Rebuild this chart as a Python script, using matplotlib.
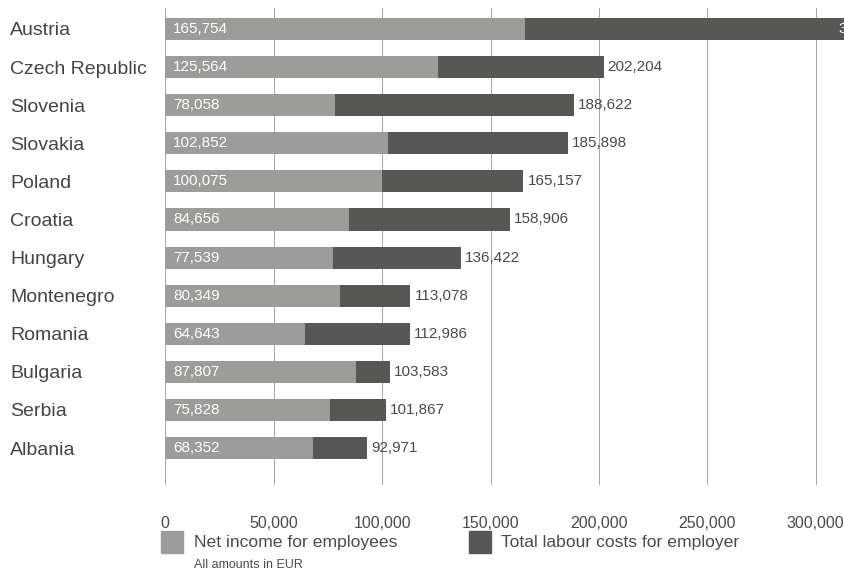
import matplotlib.pyplot as plt
from matplotlib.patches import Rectangle

plt.rcParams['font.family'] = ['Liberation Sans', 'DejaVu Sans']

countries = ['Austria', 'Czech Republic', 'Slovenia', 'Slovakia', 'Poland', 'Croatia',
             'Hungary', 'Montenegro', 'Romania', 'Bulgaria', 'Serbia', 'Albania']
net_income = [165754, 125564, 78058, 102852, 100075, 84656,
              77539, 80349, 64643, 87807, 75828, 68352]
# Austria's total is cut off in the source
labour_costs = [339500, 202204, 188622, 185898, 165157, 158906,
                136422, 113078, 112986, 103583, 101867, 92971]
xticks = [0, 50000, 100000, 150000, 200000, 250000, 300000]

light = '#9c9c9b'
dark = '#575756'
txt = '#4a4a4a'

W, H = 845, 572
fig = plt.figure(figsize=(W / 100, H / 100), dpi=100)
ax = fig.add_axes([165.3 / W, 1 - 485 / H, 1 - 165.3 / W, (485 - 8) / H])

ypos = list(range(len(countries)))
ax.barh(ypos, labour_costs, height=0.58, color=dark, zorder=2)
ax.barh(ypos, net_income, height=0.58, color=light, zorder=3)

xmax = 313500
for y, n, t in zip(ypos, net_income, labour_costs):
    ax.annotate(f'{n:,}', (0, y), xytext=(5.8, 0), textcoords='offset points',
                ha='left', va='center', color='white', fontsize=11, zorder=4)
    if t > xmax:
        # bar runs off the chart: label sits inside the bar end, mostly cut off
        ax.annotate(f'{t:,}', (t, y), xytext=(-5.8, 0), textcoords='offset points',
                    ha='right', va='center', color='white', fontsize=11,
                    zorder=4, annotation_clip=False)
    else:
        ax.annotate(f'{t:,}', (t, y), xytext=(2.9, 0), textcoords='offset points',
                    ha='left', va='center', color=txt, fontsize=11, zorder=4)

ax.set_xlim(0, xmax)
ax.set_ylim(11.97, -0.551)
ax.set_xticks(xticks)
ax.set_xticklabels([f'{v:,}' for v in xticks], fontsize=11.5, color=txt)
ax.set_yticks(ypos)
ax.set_yticklabels(countries, fontsize=14, color='#444444', ha='left')
ax.tick_params(axis='y', length=0, pad=(165.3 - 10) * 0.72)
ax.tick_params(axis='x', length=0, pad=22)
for s in ax.spines.values():
    s.set_visible(False)
ax.grid(axis='x', color='#a8a8a8', linewidth=0.75)
ax.grid(axis='y', visible=False)
ax.set_axisbelow(True)

# legend
fig.patches.append(Rectangle((161 / W, 1 - 553 / H), 22 / W, 22 / H,
                             transform=fig.transFigure, color=light))
fig.text(194 / W, 1 - 542 / H, 'Net income for employees', fontsize=12.6,
         color=txt, va='center', ha='left')
fig.patches.append(Rectangle((469 / W, 1 - 553 / H), 22 / W, 22 / H,
                             transform=fig.transFigure, color=dark))
fig.text(501 / W, 1 - 542 / H, 'Total labour costs for employer', fontsize=12.6,
         color=txt, va='center', ha='left')
fig.text(194 / W, 1 - 565 / H, 'All amounts in EUR', fontsize=9,
         color=txt, va='center', ha='left')

fig.savefig('out.png', dpi=100)
